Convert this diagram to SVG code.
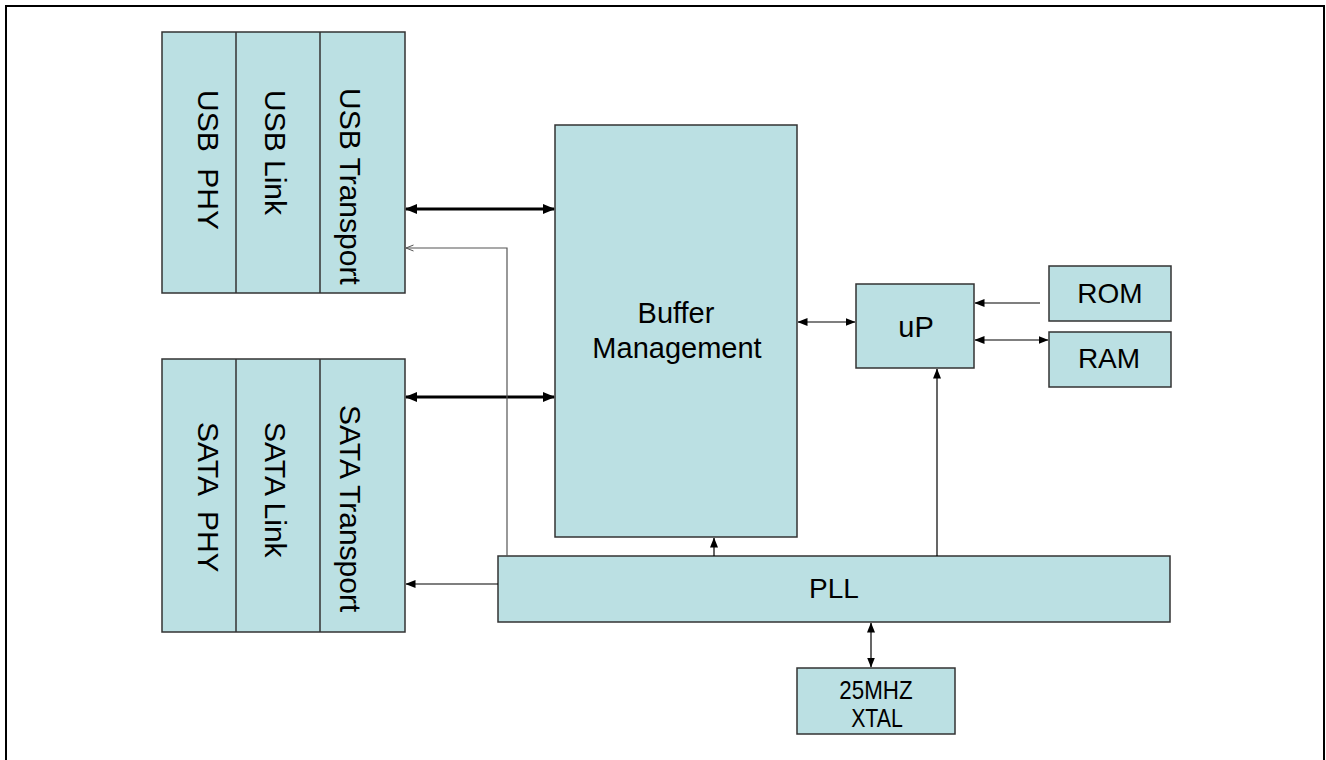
<svg xmlns="http://www.w3.org/2000/svg" width="1326" height="760" viewBox="0 0 1326 760">
<defs>
<style>
.box{fill:#BBE0E3;stroke:#333;stroke-width:1.5}
.t{font-family:"Liberation Sans",Arial,sans-serif;fill:#000}
.thick{stroke:#000;stroke-width:3;fill:none}
.thin{stroke:#000;stroke-width:1.2;fill:none}
.gray{stroke:#555;stroke-width:1.2;fill:none}
</style>
<marker id="bigEnd" markerUnits="userSpaceOnUse" markerWidth="12" markerHeight="10" refX="11" refY="5" orient="auto"><path d="M0,0 L12,5 L0,10 z" fill="#000"/></marker>
<marker id="bigStart" markerUnits="userSpaceOnUse" markerWidth="12" markerHeight="10" refX="1" refY="5" orient="auto"><path d="M12,0 L0,5 L12,10 z" fill="#000"/></marker>
<marker id="smEnd" markerUnits="userSpaceOnUse" markerWidth="10" markerHeight="8" refX="9.5" refY="4" orient="auto"><path d="M0,0 L10,4 L0,8 z" fill="#000"/></marker>
<marker id="smStart" markerUnits="userSpaceOnUse" markerWidth="10" markerHeight="8" refX="0.5" refY="4" orient="auto"><path d="M10,0 L0,4 L10,8 z" fill="#000"/></marker>
<marker id="openEnd" markerUnits="userSpaceOnUse" markerWidth="9" markerHeight="8" refX="8.5" refY="4" orient="auto"><path d="M1,1 L8.5,4 L1,7" fill="none" stroke="#555" stroke-width="1"/></marker>
</defs>
<rect x="6" y="6" width="1318" height="770" fill="#fff" stroke="#000" stroke-width="2"/>

<g id="usb">
<rect class="box" x="162" y="32" width="243" height="261"/>
<line x1="236" y1="32" x2="236" y2="293" stroke="#333" stroke-width="1.5"/>
<line x1="320" y1="32" x2="320" y2="293" stroke="#333" stroke-width="1.5"/>
<text class="t" font-size="30" xml:space="preserve" transform="translate(198,90) rotate(90)">USB  PHY</text>
<text class="t" font-size="30" transform="translate(265,90) rotate(90)">USB Link</text>
<text class="t" font-size="30" transform="translate(340,88) rotate(90)">USB Transport</text>
</g>

<g id="sata">
<rect class="box" x="162" y="359" width="243" height="273"/>
<line x1="236" y1="359" x2="236" y2="632" stroke="#333" stroke-width="1.5"/>
<line x1="320" y1="359" x2="320" y2="632" stroke="#333" stroke-width="1.5"/>
<text class="t" font-size="30" xml:space="preserve" transform="translate(198,422) rotate(90)">SATA  PHY</text>
<text class="t" font-size="30" transform="translate(265,422) rotate(90)">SATA Link</text>
<text class="t" font-size="30" transform="translate(340,405) rotate(90)">SATA Transport</text>
</g>

<g id="buffer">
<rect class="box" x="555" y="125" width="242" height="412"/>
<text class="t" font-size="29" x="676" y="323" text-anchor="middle">Buffer</text>
<text class="t" font-size="29" x="677" y="358" text-anchor="middle">Management</text>
</g>

<g id="up">
<rect class="box" x="856" y="284" width="118" height="84"/>
<text class="t" font-size="29" x="916" y="337" text-anchor="middle">uP</text>
</g>

<g id="rom">
<rect class="box" x="1049" y="266" width="122" height="55"/>
<text class="t" font-size="28" x="1110" y="303" text-anchor="middle">ROM</text>
</g>

<g id="ram">
<rect class="box" x="1049" y="332" width="122" height="55"/>
<text class="t" font-size="28" x="1109" y="368" text-anchor="middle">RAM</text>
</g>

<g id="pll">
<rect class="box" x="498" y="556" width="672" height="66"/>
<text class="t" font-size="28" x="834" y="598" text-anchor="middle">PLL</text>
</g>

<g id="xtal">
<rect class="box" x="797" y="668" width="158" height="66"/>
<text class="t" font-size="26" x="876" y="699" text-anchor="middle" transform="translate(876,0) scale(0.86,1) translate(-876,0)">25MHZ</text>
<text class="t" font-size="26" x="877" y="727" text-anchor="middle" transform="translate(877,0) scale(0.82,1) translate(-877,0)">XTAL</text>
</g>

<g id="connectors">
<line class="thick" x1="406" y1="209" x2="554" y2="209" marker-start="url(#bigStart)" marker-end="url(#bigEnd)"/>
<line class="thick" x1="406" y1="397" x2="554" y2="397" marker-start="url(#bigStart)" marker-end="url(#bigEnd)"/>
<polyline class="gray" points="507,556 507,248 406,248" marker-end="url(#openEnd)"/>
<line class="thin" x1="498" y1="584" x2="406" y2="584" marker-end="url(#smEnd)"/>
<line class="thin" x1="714" y1="556" x2="714" y2="538" marker-end="url(#smEnd)"/>
<line class="thin" x1="937" y1="556" x2="937" y2="369" marker-end="url(#smEnd)"/>
<line class="thin" x1="798" y1="322" x2="855" y2="322" marker-start="url(#smStart)" marker-end="url(#smEnd)"/>
<line class="thin" x1="1040" y1="303" x2="975" y2="303" marker-end="url(#smEnd)"/>
<line class="thin" x1="975" y1="340" x2="1048" y2="340" marker-start="url(#smStart)" marker-end="url(#smEnd)"/>
<line class="thin" x1="871" y1="623" x2="871" y2="667" marker-start="url(#smStart)" marker-end="url(#smEnd)"/>
</g>
</svg>
